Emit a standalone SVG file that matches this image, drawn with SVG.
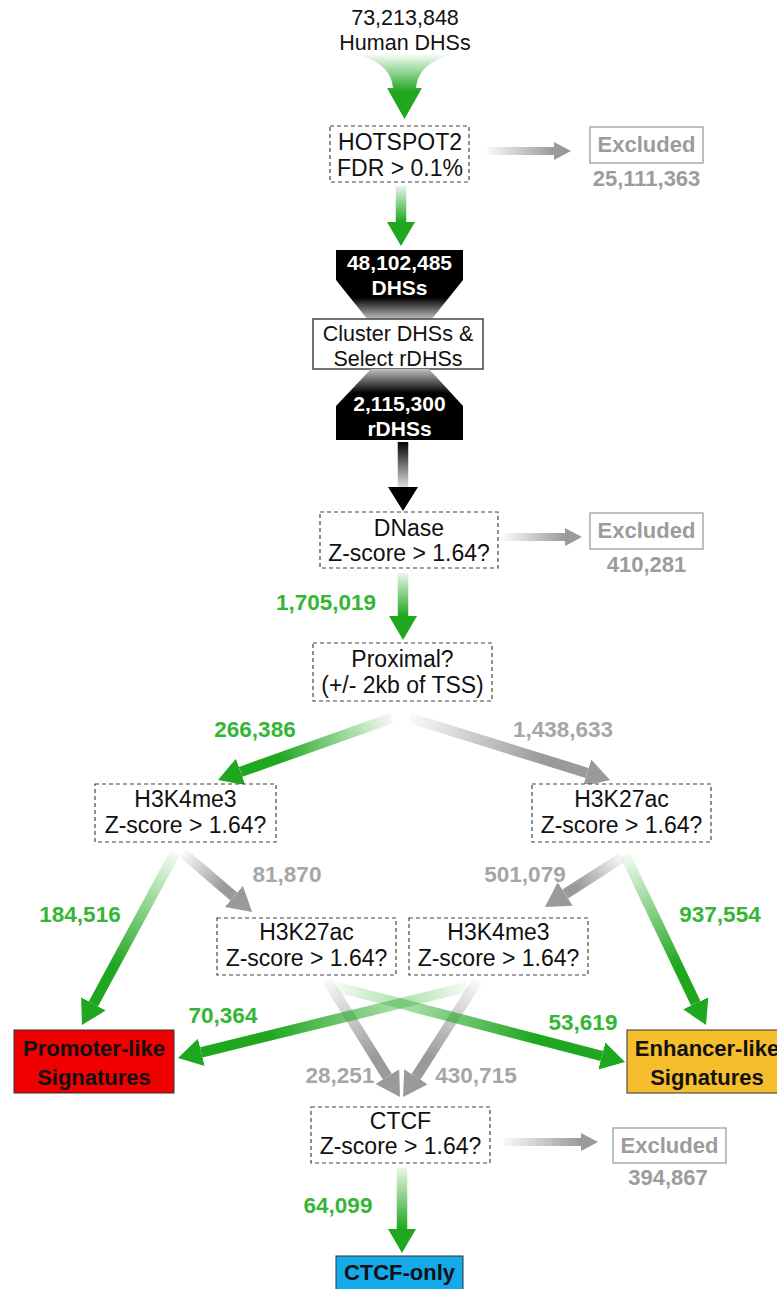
<svg xmlns="http://www.w3.org/2000/svg" width="777" height="1289" viewBox="0 0 777 1289">
<style>
.t{font-family:"Liberation Sans",Arial,sans-serif;font-size:23px;fill:#111;text-anchor:middle}
.w{font-family:"Liberation Sans",Arial,sans-serif;font-size:21px;font-weight:bold;fill:#fff;text-anchor:middle}
.b{font-family:"Liberation Sans",Arial,sans-serif;font-size:22px;font-weight:bold;fill:#111;text-anchor:middle}
.gn{font-family:"Liberation Sans",Arial,sans-serif;font-size:22.5px;font-weight:bold;fill:#35b535;text-anchor:middle}
.gy{font-family:"Liberation Sans",Arial,sans-serif;font-size:22.5px;font-weight:bold;fill:#a6a6a6;text-anchor:middle}
.ex{font-family:"Liberation Sans",Arial,sans-serif;font-size:22px;font-weight:bold;fill:#9c9c9c;text-anchor:middle}
.dash{fill:#fff;stroke:#444;stroke-width:1.2;stroke-dasharray:4 3}
.exb{fill:#fff;stroke:#aaa;stroke-width:1.5}
.sh{fill:none;stroke-width:10.5}
.ss{fill:none;stroke-width:8}
</style>
<defs>
<marker id="mG" viewBox="0 -14 24 28" refX="0" refY="0" markerWidth="24" markerHeight="28" markerUnits="userSpaceOnUse" orient="auto"><path d="M0,-14 L24,0 L0,14 Z" fill="#1fa71f"/></marker>
<marker id="mK" viewBox="0 -14 24 28" refX="0" refY="0" markerWidth="24" markerHeight="28" markerUnits="userSpaceOnUse" orient="auto"><path d="M0,-14 L24,0 L0,14 Z" fill="#9a9a9a"/></marker>
<marker id="mB" viewBox="0 -15 24 30" refX="0" refY="0" markerWidth="24" markerHeight="30" markerUnits="userSpaceOnUse" orient="auto"><path d="M0,-15 L24,0 L0,15 Z" fill="#000"/></marker>
<marker id="mS" viewBox="0 -9 17 18" refX="0" refY="0" markerWidth="17" markerHeight="18" markerUnits="userSpaceOnUse" orient="auto"><path d="M0,-9 L17,0 L0,9 Z" fill="#9a9a9a"/></marker>
<linearGradient id="gTop" x1="0" y1="55" x2="0" y2="92" gradientUnits="userSpaceOnUse"><stop offset="0" stop-color="#1fa71f" stop-opacity="0.05"/><stop offset="1" stop-color="#1fa71f"/></linearGradient>
<linearGradient id="gHex1" x1="0" y1="250" x2="0" y2="320" gradientUnits="userSpaceOnUse"><stop offset="0" stop-color="#000"/><stop offset="0.68" stop-color="#000"/><stop offset="1" stop-color="#c8c8c8"/></linearGradient>
<linearGradient id="gHex2" x1="0" y1="368" x2="0" y2="440" gradientUnits="userSpaceOnUse"><stop offset="0" stop-color="#c8c8c8"/><stop offset="0.35" stop-color="#000"/><stop offset="1" stop-color="#000"/></linearGradient>
<linearGradient id="a2" x1="401" y1="186" x2="401" y2="222" gradientUnits="userSpaceOnUse"><stop offset="0" stop-color="#1fa71f" stop-opacity="0.1"/><stop offset="1" stop-color="#1fa71f"/></linearGradient>
<linearGradient id="a3" x1="403" y1="573" x2="403" y2="616" gradientUnits="userSpaceOnUse"><stop offset="0" stop-color="#1fa71f" stop-opacity="0.1"/><stop offset="1" stop-color="#1fa71f"/></linearGradient>
<linearGradient id="a4" x1="392" y1="718" x2="240.6" y2="771.9" gradientUnits="userSpaceOnUse"><stop offset="0" stop-color="#1fa71f" stop-opacity="0.05"/><stop offset="0.75" stop-color="#1fa71f"/></linearGradient>
<linearGradient id="a5" x1="175" y1="853" x2="93.4" y2="1003.9" gradientUnits="userSpaceOnUse"><stop offset="0" stop-color="#1fa71f" stop-opacity="0.05"/><stop offset="0.75" stop-color="#1fa71f"/></linearGradient>
<linearGradient id="a6" x1="625" y1="855" x2="695.7" y2="1003.3" gradientUnits="userSpaceOnUse"><stop offset="0" stop-color="#1fa71f" stop-opacity="0.05"/><stop offset="0.75" stop-color="#1fa71f"/></linearGradient>
<linearGradient id="a7" x1="467" y1="987" x2="201.3" y2="1052.3" gradientUnits="userSpaceOnUse"><stop offset="0" stop-color="#1fa71f" stop-opacity="0.05"/><stop offset="0.75" stop-color="#1fa71f"/></linearGradient>
<linearGradient id="a8" x1="337" y1="987" x2="601.8" y2="1056" gradientUnits="userSpaceOnUse"><stop offset="0" stop-color="#1fa71f" stop-opacity="0.05"/><stop offset="0.75" stop-color="#1fa71f"/></linearGradient>
<linearGradient id="a9" x1="402" y1="1168" x2="402" y2="1229" gradientUnits="userSpaceOnUse"><stop offset="0" stop-color="#1fa71f" stop-opacity="0.1"/><stop offset="1" stop-color="#1fa71f"/></linearGradient>
<linearGradient id="a10" x1="410" y1="718" x2="587.1" y2="772.9" gradientUnits="userSpaceOnUse"><stop offset="0" stop-color="#9a9a9a" stop-opacity="0.05"/><stop offset="0.75" stop-color="#9a9a9a"/></linearGradient>
<linearGradient id="a11" x1="183" y1="853" x2="233.8" y2="896.4" gradientUnits="userSpaceOnUse"><stop offset="0" stop-color="#9a9a9a" stop-opacity="0.05"/><stop offset="0.8" stop-color="#9a9a9a"/></linearGradient>
<linearGradient id="a12" x1="623" y1="857" x2="565.2" y2="894" gradientUnits="userSpaceOnUse"><stop offset="0" stop-color="#9a9a9a" stop-opacity="0.05"/><stop offset="0.8" stop-color="#9a9a9a"/></linearGradient>
<linearGradient id="a13" x1="327" y1="980" x2="387.3" y2="1076.6" gradientUnits="userSpaceOnUse"><stop offset="0" stop-color="#9a9a9a" stop-opacity="0.05"/><stop offset="0.8" stop-color="#9a9a9a"/></linearGradient>
<linearGradient id="a14" x1="478" y1="980" x2="416" y2="1076.8" gradientUnits="userSpaceOnUse"><stop offset="0" stop-color="#9a9a9a" stop-opacity="0.05"/><stop offset="0.8" stop-color="#9a9a9a"/></linearGradient>
<linearGradient id="a15" x1="487" y1="0" x2="554" y2="0" gradientUnits="userSpaceOnUse"><stop offset="0" stop-color="#9a9a9a" stop-opacity="0.05"/><stop offset="1" stop-color="#9a9a9a"/></linearGradient>
<linearGradient id="a16" x1="503" y1="0" x2="565" y2="0" gradientUnits="userSpaceOnUse"><stop offset="0" stop-color="#9a9a9a" stop-opacity="0.05"/><stop offset="1" stop-color="#9a9a9a"/></linearGradient>
<linearGradient id="a17" x1="503" y1="0" x2="581" y2="0" gradientUnits="userSpaceOnUse"><stop offset="0" stop-color="#9a9a9a" stop-opacity="0.05"/><stop offset="1" stop-color="#9a9a9a"/></linearGradient>
<linearGradient id="a18" x1="0" y1="442" x2="0" y2="487" gradientUnits="userSpaceOnUse"><stop offset="0" stop-color="#000"/><stop offset="1" stop-color="#e0e0e0"/></linearGradient>
</defs>

<rect width="777" height="1289" fill="#fff"/>

<g id="connectors">
<path d="M359,55 H450 Q418,64 416,88 H422 L404.5,119 L387,88 H393 Q391,64 359,55 Z" fill="url(#gTop)"/>
<line class="sh" x1="401" y1="186" x2="401" y2="222" stroke="url(#a2)" marker-end="url(#mG)"/>
<line class="ss" x1="487" y1="151" x2="554" y2="151" stroke="url(#a15)" marker-end="url(#mS)"/>
<line class="sh" x1="403" y1="442" x2="403" y2="487" stroke="url(#a18)" marker-end="url(#mB)"/>
<line class="ss" x1="503" y1="537" x2="565" y2="537" stroke="url(#a16)" marker-end="url(#mS)"/>
<line class="sh" x1="403" y1="573" x2="403" y2="616" stroke="url(#a3)" marker-end="url(#mG)"/>
<line class="sh" x1="392" y1="718" x2="240.6" y2="771.9" stroke="url(#a4)" marker-end="url(#mG)"/>
<line class="sh" x1="410" y1="718" x2="587.1" y2="772.9" stroke="url(#a10)" marker-end="url(#mK)"/>
<line class="sh" x1="175" y1="853" x2="93.4" y2="1003.9" stroke="url(#a5)" marker-end="url(#mG)"/>
<line class="sh" x1="183" y1="853" x2="233.8" y2="896.4" stroke="url(#a11)" marker-end="url(#mK)"/>
<line class="sh" x1="623" y1="857" x2="565.2" y2="894" stroke="url(#a12)" marker-end="url(#mK)"/>
<line class="sh" x1="625" y1="855" x2="695.7" y2="1003.3" stroke="url(#a6)" marker-end="url(#mG)"/>
<line class="sh" x1="327" y1="980" x2="387.3" y2="1076.6" stroke="url(#a13)" marker-end="url(#mK)"/>
<line class="sh" x1="478" y1="980" x2="416" y2="1076.8" stroke="url(#a14)" marker-end="url(#mK)"/>
<line class="sh" x1="467" y1="987" x2="201.3" y2="1052.3" stroke="url(#a7)" marker-end="url(#mG)"/>
<line class="sh" x1="337" y1="987" x2="601.8" y2="1056" stroke="url(#a8)" marker-end="url(#mG)"/>
<line class="ss" x1="503" y1="1142" x2="581" y2="1142" stroke="url(#a17)" marker-end="url(#mS)"/>
<line class="sh" x1="402" y1="1168" x2="402" y2="1229" stroke="url(#a9)" marker-end="url(#mG)"/>
</g>

<g id="labels">
<text class="gn" x="326" y="610">1,705,019</text>
<text class="gn" x="255" y="737">266,386</text>
<text class="gy" x="563" y="737">1,438,633</text>
<text class="gy" x="287" y="882">81,870</text>
<text class="gy" x="525" y="882">501,079</text>
<text class="gn" x="80" y="922">184,516</text>
<text class="gn" x="720" y="922">937,554</text>
<text class="gn" x="223" y="1023">70,364</text>
<text class="gn" x="583" y="1030">53,619</text>
<text class="gy" x="340" y="1083">28,251</text>
<text class="gy" x="476" y="1083">430,715</text>
<text class="gn" x="338" y="1213">64,099</text>
</g>

<g id="human-dhss">
<text class="t" x="405" y="25" style="font-size:21.5px">73,213,848</text>
<text class="t" x="405" y="50" style="font-size:21.5px">Human DHSs</text>
</g>

<g id="hotspot2">
<rect class="dash" x="330" y="126" width="139" height="56"/>
<text class="t" x="400" y="150">HOTSPOT2</text>
<text class="t" x="400" y="176">FDR &gt; 0.1%</text>
</g>

<g id="excluded-1">
<rect class="exb" x="590" y="127" width="113" height="36"/>
<text class="ex" x="646.5" y="152">Excluded</text>
<text class="ex" x="646.5" y="186">25,111,363</text>
</g>

<g id="dhss-48m">
<path d="M336,250 H463 V280 L431,320 H368 L336,280 Z" fill="url(#gHex1)"/>
<text class="w" x="399.5" y="270">48,102,485</text>
<text class="w" x="399.5" y="294.5">DHSs</text>
</g>

<g id="cluster">
<rect x="313" y="319" width="170" height="50" fill="#fff" stroke="#444" stroke-width="1.5"/>
<text class="t" x="398" y="341" style="font-size:21.5px">Cluster DHSs &amp;</text>
<text class="t" x="398" y="365.5" style="font-size:21.5px">Select rDHSs</text>
</g>

<g id="rdhss">
<path d="M371,369 H429 L463,406 V440 H336 V406 Z" fill="url(#gHex2)"/>
<text class="w" x="399.5" y="411">2,115,300</text>
<text class="w" x="399.5" y="435.5">rDHSs</text>
</g>

<g id="dnase">
<rect class="dash" x="320" y="512" width="178" height="56"/>
<text class="t" x="409" y="536">DNase</text>
<text class="t" x="409" y="561">Z-score &gt; 1.64?</text>
</g>

<g id="excluded-2">
<rect class="exb" x="590" y="513" width="113" height="36"/>
<text class="ex" x="646.5" y="538">Excluded</text>
<text class="ex" x="646.5" y="572">410,281</text>
</g>

<g id="proximal">
<rect class="dash" x="313" y="643" width="179" height="58"/>
<text class="t" x="402.5" y="667">Proximal?</text>
<text class="t" x="402.5" y="693">(+/- 2kb of TSS)</text>
</g>

<g id="h3k4me3-left">
<rect class="dash" x="95" y="784" width="181" height="58"/>
<text class="t" x="185.5" y="807">H3K4me3</text>
<text class="t" x="185.5" y="833">Z-score &gt; 1.64?</text>
</g>

<g id="h3k27ac-right">
<rect class="dash" x="532" y="784" width="179" height="58"/>
<text class="t" x="621.5" y="807">H3K27ac</text>
<text class="t" x="621.5" y="833">Z-score &gt; 1.64?</text>
</g>

<g id="h3k27ac-mid">
<rect class="dash" x="217" y="918" width="179" height="57"/>
<text class="t" x="306.5" y="940">H3K27ac</text>
<text class="t" x="306.5" y="966">Z-score &gt; 1.64?</text>
</g>

<g id="h3k4me3-mid">
<rect class="dash" x="409" y="918" width="179" height="57"/>
<text class="t" x="498.5" y="940">H3K4me3</text>
<text class="t" x="498.5" y="966">Z-score &gt; 1.64?</text>
</g>

<g id="promoter-like">
<rect x="14" y="1030" width="160" height="63" fill="#f00000" stroke="#333" stroke-width="1"/>
<text class="b" x="94" y="1056">Promoter-like</text>
<text class="b" x="94" y="1085">Signatures</text>
</g>

<g id="enhancer-like">
<rect x="627" y="1030" width="160" height="63" fill="#f6be2c" stroke="#333" stroke-width="1"/>
<text class="b" x="707" y="1056">Enhancer-like</text>
<text class="b" x="707" y="1085">Signatures</text>
</g>

<g id="ctcf">
<rect class="dash" x="311" y="1107" width="179" height="56"/>
<text class="t" x="400.5" y="1129">CTCF</text>
<text class="t" x="400.5" y="1154">Z-score &gt; 1.64?</text>
</g>

<g id="excluded-3">
<rect class="exb" x="613" y="1128" width="113" height="35"/>
<text class="ex" x="669.5" y="1153">Excluded</text>
<text class="ex" x="668" y="1185">394,867</text>
</g>

<g id="ctcf-only">
<rect x="336" y="1256" width="127" height="44" fill="#14a9e8" stroke="#333" stroke-width="1"/>
<text class="b" x="399.5" y="1280">CTCF-only</text>
</g>
</svg>
